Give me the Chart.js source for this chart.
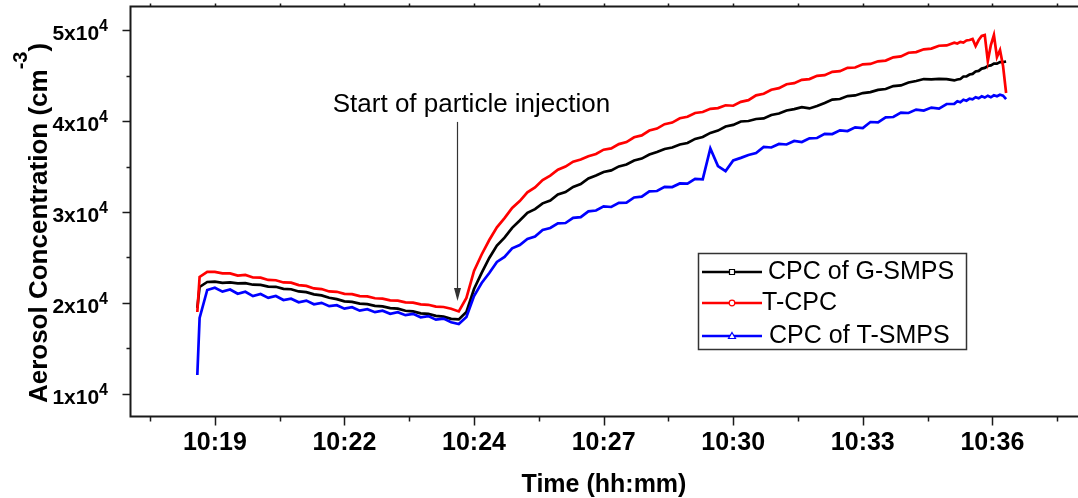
<!DOCTYPE html>
<html>
<head>
<meta charset="utf-8">
<title>Aerosol concentration during particle injection</title>
<script src="https://cdn.jsdelivr.net/npm/chart.js@4.4.1/dist/chart.umd.min.js"></script>
<style>
  html, body { margin: 0; padding: 0; background: #fff; }
  canvas { display: block; }
</style>
</head>
<body>
<canvas id="concChart" width="1078" height="498"></canvas>
<script>
// sample times, seconds from the first labelled tick
const times = [-23, -20, -10, 0, 10, 20, 30, 40, 50, 60, 70, 80, 90, 100, 110, 120, 130, 140, 150, 160,
  170, 180, 190, 200, 210, 220, 230, 240, 250, 260, 270, 280, 290, 300, 310, 320, 330, 340, 350, 360,
  370, 380, 390, 400, 410, 420, 430, 440, 450, 460, 470, 480, 490, 500, 510, 520, 530, 540, 550, 560,
  570, 580, 590, 600, 610, 620, 630, 640, 650, 660, 670, 680, 690, 700, 710, 720, 730, 740, 750, 760,
  770, 780, 790, 800, 810, 820, 830, 840, 850, 860, 870, 880, 890, 900, 910, 920, 930, 940, 950, 960,
  970, 974, 978, 982, 986, 990, 994, 998, 1002, 1006, 1010, 1014, 1018, 1022, 1026, 1030, 1034, 1038];

// CPC of G-SMPS (cm^-3)
const gSmps = [19450, 21760, 22310, 22350, 22220, 22260, 22150, 22180, 22010, 21990, 21800, 21780, 21560, 21510, 21270, 21190, 20950, 20840, 20580, 20420,
  20180, 20120, 19930, 19880, 19690, 19630, 19430, 19380, 19150, 19080, 18860, 18800, 18580, 18500, 18260, 18190, 19010, 21540, 23300, 24950,
  26320, 27190, 28260, 29060, 29910, 30320, 30950, 31270, 31930, 32190, 32760, 33070, 33690, 34010, 34400, 34570, 35010, 35220, 35660, 35870,
  36320, 36590, 36930, 37090, 37420, 37580, 38030, 38240, 38690, 38950, 39400, 39570, 39950, 40000, 40220, 40280, 40660, 40820, 41160, 41310,
  41530, 41380, 41640, 41980, 42360, 42420, 42740, 42810, 43070, 43170, 43420, 43520, 43840, 43910, 44230, 44400, 44610, 44570, 44640, 44610,
  44460, 44560, 44620, 44890, 44910, 45110, 45180, 45440, 45510, 45760, 45840, 46040, 46110, 46310, 46300, 46470, 46480, 46540];

// T-CPC (cm^-3)
const tCpc = [19010, 22860, 23410, 23420, 23250, 23260, 23020, 23080, 22800, 22790, 22530, 22500, 22260, 22230, 21960, 21880, 21600, 21530, 21270, 21230,
  21010, 20980, 20760, 20730, 20520, 20480, 20290, 20260, 20070, 20040, 19850, 19800, 19600, 19560, 19370, 19070, 20550, 23520, 25330, 26920,
  28320, 29330, 30450, 31200, 32160, 32700, 33520, 34000, 34640, 34990, 35530, 35760, 36130, 36370, 36850, 36990, 37460, 37690, 38210, 38420,
  38950, 39170, 39650, 39830, 40300, 40470, 40880, 40990, 41340, 41420, 41730, 41680, 42110, 42290, 42820, 43000, 43430, 43610, 44040, 44160,
  44530, 44610, 44970, 45040, 45410, 45480, 45850, 45880, 46230, 46270, 46560, 46640, 47000, 47100, 47500, 47570, 47880, 47960, 48270, 48310,
  48610, 48520, 48700, 48620, 48850, 48900, 49010, 48240, 48900, 49340, 49450, 46590, 48350, 49450, 47030, 47800, 46040, 43080];

// CPC of T-SMPS (cm^-3)
const tSmps = [12090, 18350, 21430, 21680, 21250, 21480, 21010, 21230, 20760, 20990, 20560, 20770, 20330, 20470, 20080, 20260, 19860, 20020, 19650, 19760,
  19380, 19530, 19160, 19310, 18990, 19150, 18820, 18990, 18660, 18810, 18430, 18560, 18170, 18290, 17890, 17690, 18460, 20770, 22200, 23300,
  24520, 25060, 26010, 26370, 27050, 27310, 28030, 28240, 28760, 28790, 29350, 29440, 30070, 30160, 30620, 30550, 31000, 31030, 31600, 31690,
  32260, 32310, 32760, 32740, 33140, 33120, 33640, 33600, 36980, 35050, 34500, 35660, 35950, 36270, 36480, 37150, 37090, 37480, 37420, 37810,
  37690, 38090, 38130, 38580, 38570, 38970, 38900, 39300, 39230, 39890, 39840, 40400, 40440, 40930, 40880, 41260, 41150, 41480, 41370, 41870,
  41890, 42180, 42060, 42330, 42230, 42450, 42390, 42620, 42500, 42720, 42580, 42780, 42610, 42830, 42720, 42880, 42790, 42410];

const seriesNames = ['CPC of G-SMPS', 'T-CPC', 'CPC of T-SMPS'];

const xTicks = [0, 170, 340, 510, 680, 850, 1020];
const xTickLabels = ['10:19', '10:22', '10:24', '10:27', '10:30', '10:33', '10:36'];
const xMinorTicks = [-85, 85, 255, 425, 595, 765, 935, 1105];

const yTicks = [10000, 20000, 30000, 40000, 50000];
const yTickLabels = ['1x10⁴', '2x10⁴', '3x10⁴', '4x10⁴', '5x10⁴'];
const yMinorTicks = [15000, 25000, 35000, 45000];

const xTitle = 'Time (hh:mm)';
const yTitle = 'Aerosol Concentration (cm⁻³)';

const injectionTime = 318;
const injectionTop = 39900;
const injectionTip = 20220;
const injectionLabel = 'Start of particle injection';

const FONT = '"Liberation Sans", Arial, sans-serif';
const AXIS_COLOR = '#1a1a1a';
const SUP = { '⁰': '0', '¹': '1', '²': '2', '³': '3', '⁴': '4', '⁵': '5', '⁶': '6', '⁷': '7', '⁸': '8', '⁹': '9', '⁻': '-' };

// split "5x10⁴" into ["5x10", "4"]
function splitSup(text) {
    let i = text.length;
    while (i > 0 && SUP[text[i - 1]]) i--;
    return [text.slice(0, i), text.slice(i).split('').map(c => SUP[c]).join('')];
}

function toPoints(values) {
    return times.map((t, i) => ({ x: t, y: values[i] }));
}

const axesPlugin = {
    id: 'axesPlugin',
    afterDraw(chart) {
        const { ctx, chartArea: area, scales: { x, y } } = chart;
        const L = area.left - 0.5, T = area.top - 0.5, B = area.bottom + 0.5, R = area.right + 3;

        ctx.save();
        // frame
        ctx.strokeStyle = AXIS_COLOR;
        ctx.lineWidth = 2;
        ctx.beginPath();
        ctx.moveTo(R, T);
        ctx.lineTo(L, T);
        ctx.lineTo(L, B);
        ctx.lineTo(R, B);
        ctx.stroke();

        // tick marks
        ctx.lineWidth = 1.5;
        ctx.beginPath();
        xTicks.forEach(v => {
            const px = Math.round(x.getPixelForValue(v)) + 0.5;
            ctx.moveTo(px, B); ctx.lineTo(px, B + 9);
            ctx.moveTo(px, T); ctx.lineTo(px, T - 3);
        });
        xMinorTicks.forEach(v => {
            const px = Math.round(x.getPixelForValue(v)) + 0.5;
            ctx.moveTo(px, B); ctx.lineTo(px, B + 5);
            ctx.moveTo(px, T); ctx.lineTo(px, T - 3);
        });
        yTicks.forEach(v => {
            const py = Math.round(y.getPixelForValue(v)) + 0.5;
            ctx.moveTo(L, py); ctx.lineTo(L - 8, py);
        });
        yMinorTicks.forEach(v => {
            const py = Math.round(y.getPixelForValue(v)) + 0.5;
            ctx.moveTo(L, py); ctx.lineTo(L - 4, py);
        });
        ctx.stroke();

        // y tick labels with superscript exponent
        ctx.fillStyle = '#000';
        ctx.textBaseline = 'alphabetic';
        ctx.textAlign = 'left';
        yTicks.forEach((v, i) => {
            const py = y.getPixelForValue(v);
            const [base, exp] = splitSup(yTickLabels[i]);
            ctx.font = 'bold 16px ' + FONT;
            const wExp = ctx.measureText(exp).width;
            ctx.font = 'bold 21px ' + FONT;
            const wBase = ctx.measureText(base).width;
            const right = 108;
            ctx.fillText(base, right - wExp - wBase, py + 10);
            ctx.font = 'bold 16px ' + FONT;
            ctx.fillText(exp, right - wExp, py + 1);
        });

        // y axis title, rotated
        const [titleMain, titleExp] = splitSup(yTitle.replace(')', ''));
        ctx.font = 'bold 26px ' + FONT;
        const wMain = ctx.measureText(titleMain).width;
        const wClose = ctx.measureText(')').width;
        ctx.font = 'bold 20px ' + FONT;
        const wTExp = ctx.measureText(titleExp).width;
        const total = wMain + wTExp + wClose;
        ctx.save();
        ctx.translate(47, 223 + total / 2);
        ctx.rotate(-Math.PI / 2);
        ctx.font = 'bold 26px ' + FONT;
        ctx.fillText(titleMain, 0, 0);
        ctx.fillText(')', wMain + wTExp, 0);
        ctx.font = 'bold 20px ' + FONT;
        ctx.fillText(titleExp, wMain, -20);
        ctx.restore();

        // injection annotation
        const ax = Math.round(x.getPixelForValue(injectionTime)) + 0.5;
        const aTop = y.getPixelForValue(injectionTop);
        const aTip = y.getPixelForValue(injectionTip);
        ctx.strokeStyle = '#333';
        ctx.fillStyle = '#333';
        ctx.lineWidth = 1.2;
        ctx.beginPath();
        ctx.moveTo(ax, aTop);
        ctx.lineTo(ax, aTip - 8);
        ctx.stroke();
        ctx.beginPath();
        ctx.moveTo(ax, aTip);
        ctx.lineTo(ax - 3.5, aTip - 13);
        ctx.lineTo(ax + 3.5, aTip - 13);
        ctx.closePath();
        ctx.fill();
        ctx.fillStyle = '#000';
        ctx.font = '26px ' + FONT;
        ctx.textAlign = 'center';
        ctx.textBaseline = 'middle';
        ctx.fillText(injectionLabel, ax + 14, aTop - 17);

        // legend
        ctx.strokeStyle = '#333';
        ctx.lineWidth = 1.5;
        ctx.strokeRect(698.5, 253.5, 268, 96);
        const rows = [272, 303, 336];
        const gaps = [6, 0, 7];
        ctx.textAlign = 'left';
        ctx.font = '25px ' + FONT;
        chart.data.datasets.forEach((ds, i) => {
            const ry = rows[i];
            ctx.strokeStyle = ds.borderColor;
            ctx.lineWidth = 2.5;
            ctx.beginPath();
            ctx.moveTo(702, ry);
            ctx.lineTo(762, ry);
            ctx.stroke();
            ctx.fillStyle = '#fff';
            ctx.lineWidth = 1.2;
            ctx.beginPath();
            if (ds.pointStyle === 'rect') {
                ctx.rect(729.5, ry - 2.5, 5, 5);
            } else if (ds.pointStyle === 'circle') {
                ctx.arc(732, ry, 2.8, 0, Math.PI * 2);
            } else {
                ctx.moveTo(732, ry - 3.5);
                ctx.lineTo(735.5, ry + 2.5);
                ctx.lineTo(728.5, ry + 2.5);
                ctx.closePath();
            }
            ctx.fill();
            ctx.stroke();
            ctx.fillStyle = '#000';
            ctx.fillText(ds.label, 762 + gaps[i], ry);
        });
        ctx.restore();
    }
};

const ctx = document.getElementById('concChart').getContext('2d');

new Chart(ctx, {
    type: 'line',
    data: {
        datasets: [
            { label: seriesNames[0], data: toPoints(gSmps), borderColor: '#000000', pointStyle: 'rect', order: 3 },
            { label: seriesNames[1], data: toPoints(tCpc), borderColor: '#ff0000', pointStyle: 'circle', order: 2 },
            { label: seriesNames[2], data: toPoints(tSmps), borderColor: '#0000ff', pointStyle: 'triangle', order: 1 }
        ]
    },
    options: {
        responsive: false,
        animation: false,
        devicePixelRatio: 1,
        layout: { padding: { top: 7, right: 1, bottom: 0, left: 0 } },
        elements: {
            point: { radius: 0 },
            line: { borderWidth: 2.7, tension: 0, fill: false }
        },
        plugins: {
            legend: { display: false },
            tooltip: { enabled: false }
        },
        scales: {
            x: {
                type: 'linear',
                min: -110,
                max: 1131,
                afterFit: function(scale) { scale.height = 82; },
                afterBuildTicks: function(scale) {
                    scale.ticks = xTicks.map(v => ({ value: v }));
                },
                grid: { display: false },
                border: { display: false },
                ticks: {
                    autoSkip: false,
                    maxRotation: 0,
                    padding: 4,
                    color: '#000',
                    font: { family: FONT, size: 25, weight: 'bold' },
                    callback: function(value, index) { return xTickLabels[index]; }
                },
                title: {
                    display: true,
                    text: xTitle,
                    color: '#000',
                    padding: 0,
                    font: { family: FONT, size: 25, weight: 'bold', lineHeight: 1 }
                }
            },
            y: {
                type: 'linear',
                min: 7580,
                max: 52530,
                afterFit: function(scale) { scale.width = 131; },
                grid: { display: false },
                border: { display: false },
                ticks: { display: false }
            }
        }
    },
    plugins: [axesPlugin]
});
</script>
</body>
</html>
